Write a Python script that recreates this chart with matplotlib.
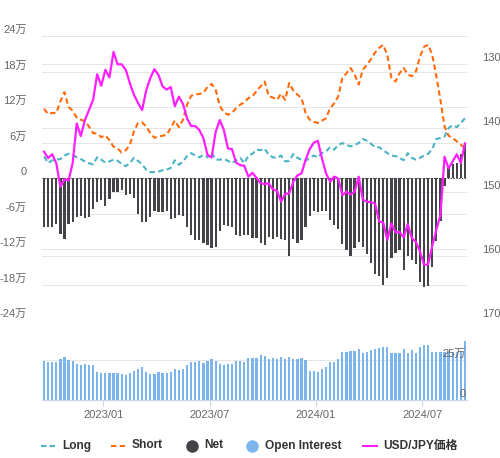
import matplotlib
matplotlib.use('Agg')
import matplotlib.pyplot as plt
import matplotlib.transforms as mtransforms
from matplotlib.lines import Line2D
import numpy as np
import pandas as pd

plt.rcParams['font.family'] = ['Liberation Sans', 'Noto Sans CJK JP']

# ---------------- data (万 contracts / JPY) ----------------
dates = pd.date_range('2022-09-20', periods=104, freq='7D')

long_pos = [3.66, 2.53, 2.98, 3.1, 3.2, 3.8, 4.1, 3.9, 3.5, 3.2, 2.8, 2.5, 2.3, 3.5, 3.1, 2.6, 2.8, 3.1, 2.9, 2.4,
            2.0, 2.5, 3.4, 2.9, 2.3, 1.4, 1.0,
            1.0, 1.1, 1.3, 1.4, 1.7, 3.0, 2.25, 2.8, 3.7, 4.2, 3.8, 3.5, 3.9, 3.5, 4.3, 3.1, 3.1, 3.2, 2.9, 2.5,
            3.0, 3.4, 2.5, 3.8, 4.1, 4.8,
            4.7, 4.95, 3.9, 3.5, 3.4, 3.8, 2.8, 2.9, 4.05, 3.4, 3.1, 2.9, 3.4, 3.8, 3.5, 4.2, 4.5, 5.2, 4.8, 5.6,
            5.9, 5.6, 5.35, 5.6, 5.9, 6.6,
            6.3, 5.8, 5.2, 5.2, 4.7, 4.2, 3.8, 3.7, 3.4, 3.0, 4.2, 3.4, 3.1, 3.4, 3.8, 4.1, 4.9, 6.6, 6.75, 7.0,
            8.45, 8.9, 8.6, 9.3, 10.1]

short_pos = [11.7, 10.8, 11.0, 11.0, 12.95, 14.5, 12.0, 11.4, 10.2, 9.85, 9.6, 8.7, 7.6, 7.5, 6.9, 7.2, 6.4, 5.3,
             5.0, 4.3, 4.7, 5.6, 7.9, 9.3, 9.4, 8.7, 7.6,
             6.8, 7.0, 7.15, 7.3, 8.45, 9.7, 8.6, 9.85, 12.4, 13.9, 14.1, 14.2, 14.4, 15.4, 15.9, 14.9, 12.2, 11.1,
             10.7, 11.0, 11.8, 12.4, 12.8, 13.5, 13.8, 14.7,
             15.5, 16.3, 13.8, 13.6, 13.2, 14.25, 13.2, 16.05, 14.75, 14.1, 13.5, 11.0, 9.85, 9.5, 9.3, 9.7, 10.1,
             11.8, 12.6, 13.8, 16.9, 17.7, 18.6, 17.5, 15.8, 18.3,
             19.1, 20.1, 21.2, 22.0, 22.5, 20.8, 16.9, 16.3, 17.7, 18.6, 17.5, 17.2, 18.0, 20.55, 22.2, 22.5, 20.8,
             17.2, 13.2, 8.7, 7.15, 6.75, 6.2, 5.6, 5.1]

net_pos = [-8.2, -8.3, -8.2, -7.8, -9.5, -10.3, -7.8, -7.4, -6.6, -6.5, -6.8, -6.6, -5.2, -4.1, -3.7, -4.7, -3.5,
           -2.3, -2.3, -2.1, -2.9, -2.7, -3.4, -6.0, -7.5, -7.5, -6.6,
           -5.5, -5.8, -5.8, -5.6, -6.9, -6.8, -6.2, -6.5, -8.2, -9.7, -10.5, -10.4, -11.0, -11.4, -11.9, -11.7,
           -9.0, -7.9, -8.1, -8.2, -9.6, -9.85, -9.7, -9.7, -10.1, -10.1,
           -11.0, -11.4, -10.0, -10.3, -10.0, -10.3, -10.4, -13.1, -10.3, -11.0, -10.5, -8.2, -6.5, -5.6, -5.8,
           -5.6, -5.6, -7.15, -8.0, -8.6, -11.1, -12.1, -13.2, -11.8, -10.75, -11.7,
           -12.8, -14.4, -16.2, -16.6, -18.0, -16.9, -13.6, -12.7, -12.1, -15.5, -13.2, -13.8, -14.6, -17.5, -18.4,
           -18.3, -15.1, -10.7, -7.3, -1.3, 1.8, 2.4, 2.6, 4.1, 5.5]

open_interest = [24.4, 23.75, 23.75, 23.75, 25.6, 26.9, 25.0, 24.4, 22.5, 21.9, 22.5, 21.9, 21.9, 17.5, 16.9, 16.9,
                 16.9, 16.9, 16.9, 16.25, 15.6, 16.9, 18.1, 19.4, 20.6, 17.5, 16.25, 16.25, 17.5, 16.9, 16.9, 17.5,
                 19.4, 18.75, 19.4, 21.9, 23.75, 23.75, 24.4, 23.1, 24.4, 25.6, 24.4, 22.5, 21.9, 22.5, 22.5, 24.4,
                 24.4, 23.75, 26.25, 26.25,
                 26.25, 28.1, 27.5, 25.6, 26.25, 25.6, 26.9, 25.6, 26.9, 25.6, 25.6, 26.25, 25.0, 18.1, 18.1, 17.5,
                 19.4, 20.6, 23.75, 23.75, 25.6, 30.0, 30.0, 30.6, 30.6, 31.9, 29.4, 30.0, 31.25, 31.9, 32.5, 33.1,
                 33.1, 29.4, 29.4, 29.4, 31.9, 29.4, 31.25, 29.4, 33.1, 34.4, 34.4, 30.0, 30.0, 30.0, 30.0, 30.0,
                 30.0, 30.0, 30.0, 36.9]

usdjpy = [143.7, 144.7, 144.1, 145.5, 149.2, 148.0, 148.2, 145.5, 139.3, 141.25, 138.75, 137.2, 135.6, 131.6, 133.4,
          130.9, 132.1, 128.1, 130.05, 130.05, 130.9, 133.0, 134.8, 136.1, 137.2, 134.1, 132.2,
          130.8, 131.7, 133.5, 134.0, 133.6, 136.6, 135.1, 136.25, 138.5, 139.7, 139.7, 140.3, 141.6, 144.2, 144.6,
          140.6, 138.75, 140.3, 143.2, 143.3, 145.4, 145.8, 145.9, 147.6, 147.0, 147.8,
          148.65, 148.75, 148.65, 149.6, 149.8, 151.5, 150.3, 150.2, 148.4, 147.4, 147.1, 145.0, 143.3, 142.3,
          142.0, 144.7, 147.1, 148.4, 147.6, 147.9, 150.5, 149.95, 150.4, 149.95, 147.6, 151.2,
          151.5, 151.6, 151.8, 154.6, 154.8, 157.5, 154.9, 156.3, 156.25, 157.1, 155.0, 157.2, 157.8, 159.3, 161.4,
          161.3, 158.4, 155.9, 153.6, 144.5, 146.3, 145.2, 144.1, 145.5, 142.4]

left_ticks = [-24, -18, -12, -6, 0, 6, 12, 18, 24]
right_ticks = [130, 140, 150, 160, 170]

# ---------------- colours ----------------
C_LONG = '#4ab3c6'
C_SHORT = '#ff6a0d'
C_NET = '#434348'
C_OI = '#7cb5ec'
C_FX = '#ff1fff'
C_GRID = '#e6e6e6'
C_LABEL = '#666666'
C_AXIS = '#ccd6eb'

W, H = 500, 458
fig = plt.figure(figsize=(W / 100, H / 100), dpi=100)
fig.patch.set_facecolor('white')

def fx(px):
    return px / W

def fy(py):
    return 1 - py / H

ax = fig.add_axes([fx(42), fy(320), 425 / W, 284 / H])
ax2 = ax.twinx()
axb = fig.add_axes([fx(42), fy(400), 425 / W, 80 / H])

N = len(dates)
x = np.arange(N)
dash = (0, (2.6, 1.6))

# top panel
ax.set_xlim(-0.5, N - 0.5)
ax.set_ylim(-24, 24)
ax2.set_ylim(170, 125.625)
for v in left_ticks:
    ax.axhline(v, color=C_GRID, lw=0.75, zorder=0.5)
bt = mtransforms.blended_transform_factory(ax.transAxes, ax2.transData)
for v in right_ticks:
    ax.add_line(Line2D([0, 1], [v, v], transform=bt, color=C_GRID, lw=0.75, zorder=0.5))
ax.axhline(0, color='#333333', lw=0.8, ls=(0, (1, 1.5)), zorder=1)
ax.bar(x, net_pos, width=0.55, color=C_NET, zorder=2)
ax.plot(x, long_pos, color=C_LONG, lw=1.5, ls=dash, zorder=3)
ax.plot(x, short_pos, color=C_SHORT, lw=1.5, ls=dash, zorder=3)
ax2.plot(x, usdjpy, color=C_FX, lw=1.6, zorder=4)

for a in (ax, ax2):
    for s in a.spines.values():
        s.set_visible(False)
    a.set_xticks([])
    a.set_yticks([])

tl = mtransforms.offset_copy(mtransforms.blended_transform_factory(ax.transAxes, ax.transData),
                             fig=fig, x=-15, y=6, units='dots')
for v in left_ticks:
    ax.text(0, v, '0' if v == 0 else f'{v}万', transform=tl, ha='right', va='center',
            fontsize=8, color=C_LABEL)
tr = mtransforms.offset_copy(bt, fig=fig, x=15, y=6, units='dots')
for v in right_ticks:
    ax.text(1, v, f'{v}', transform=tr, ha='left', va='center', fontsize=8, color=C_LABEL, clip_on=False)

# bottom panel
axb.set_xlim(-0.5, N - 0.5)
axb.set_ylim(0, 50)
axb.axhline(25, color=C_GRID, lw=0.75, zorder=0.5)
axb.bar(x, open_interest, width=0.55, color=C_OI, zorder=2)
for k, s in axb.spines.items():
    s.set_visible(k == 'bottom')
axb.spines['bottom'].set_color(C_AXIS)
axb.spines['bottom'].set_linewidth(0.8)
axb.set_yticks([])

tick_pos, tick_lab = [], []
for i in range(1, N):
    if dates[i].month != dates[i - 1].month and dates[i].month in (1, 7):
        tick_pos.append(i - 0.5)
        tick_lab.append(dates[i].strftime('%Y/%m'))
axb.set_xticks(tick_pos)
axb.set_xticklabels(tick_lab)
axb.tick_params(axis='x', length=4.5, width=0.8, color=C_AXIS, pad=2.5, labelsize=8, labelcolor=C_LABEL)

tb = mtransforms.blended_transform_factory(axb.transAxes, axb.transData)
for v, lab in [(25, '25万'), (0, '0')]:
    axb.text(1, v, lab, transform=mtransforms.offset_copy(tb, fig=fig, x=-1, y=6, units='dots'),
             ha='right', va='center', fontsize=8, color=C_LABEL, zorder=5)

# legend
ly = fy(445.5)
legend_font = dict(fontsize=8.6, fontweight='bold', color='#333333', va='center', ha='left')
fig.add_artist(Line2D([fx(41), fx(55)], [ly, ly], color=C_LONG, lw=1.5, ls=dash))
fig.text(fx(62), ly, 'Long', **legend_font)
fig.add_artist(Line2D([fx(111), fx(125)], [ly, ly], color=C_SHORT, lw=1.5, ls=dash))
fig.text(fx(132), ly, 'Short', **legend_font)
fig.add_artist(Line2D([fx(191.5)], [ly], marker='o', ms=8, color=C_NET, lw=0))
fig.text(fx(204), ly, 'Net', **legend_font)
fig.add_artist(Line2D([fx(252)], [ly], marker='o', ms=8, color=C_OI, lw=0))
fig.text(fx(265), ly, 'Open Interest', **legend_font)
fig.add_artist(Line2D([fx(363), fx(377)], [ly, ly], color=C_FX, lw=1.5))
fig.text(fx(383), ly, 'USD/JPY価格', **legend_font)

fig.savefig('out.png', dpi=100)
